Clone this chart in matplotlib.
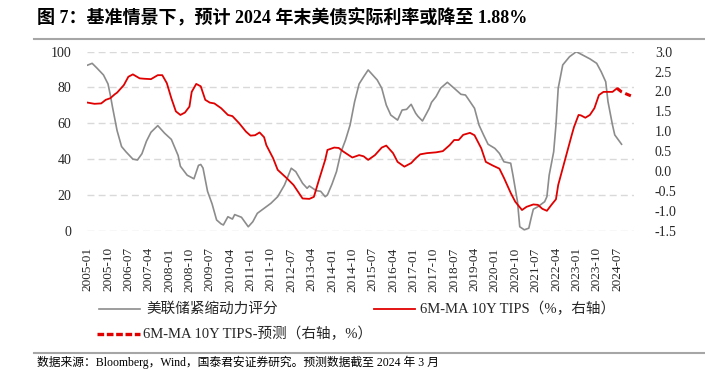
import matplotlib
matplotlib.use("Agg")
import matplotlib.pyplot as plt
from matplotlib.lines import Line2D

plt.rcParams['font.family'] = ['Liberation Serif', 'Noto Sans CJK SC']
plt.rcParams['axes.unicode_minus'] = False

# 月份序号：0 = 2005-01
score_month = [0, 2, 4, 7, 9, 10, 11, 13, 15, 17, 20, 22, 24, 26, 28, 31, 34, 37, 40, 41,
               44, 47, 49, 50, 51, 53, 55, 57, 59, 60, 62, 64, 65, 68, 71, 73, 75, 78, 81, 84,
               87, 90, 92, 95, 97, 98, 101, 103, 105, 106, 108, 110, 112, 114, 116, 118, 120, 122, 124, 126,
               128, 130, 132, 134, 137, 139, 141, 143, 145, 146, 148, 150, 151, 152, 154, 156, 159, 162, 165, 167,
               168, 171, 173, 175, 177, 180, 182, 184, 187, 188, 190, 191, 193, 195, 196, 197, 199, 202, 203, 204,
               206, 207, 208, 210, 213, 216, 219, 222, 225, 227, 229, 230, 232, 233, 236]
score = [92.5, 93.5, 91, 87, 82, 76, 69, 56, 47, 44, 40, 39.5, 43, 50, 55, 58.7, 54.5, 51, 42, 36,
         31, 29, 36.5, 37, 35, 22, 15, 6, 3.8, 3.2, 7.8, 6.5, 9, 7.5, 2.2, 5, 9.7, 12.5, 15.3, 19,
         25.5, 34.9, 33, 26.5, 23.7, 25, 22.4, 22, 19, 20, 26, 33, 44, 50.7, 59, 72, 82, 86, 89.8, 87,
         84.2, 79.6, 70.2, 64.6, 61.8, 67.4, 67.8, 70.6, 65.6, 63.9, 61.3, 66, 68.4, 71.7, 74.9, 79.6, 82.9, 79.6, 76.2, 75.8,
         74, 68.4, 59, 53.5, 48.3, 46, 43.2, 38.5, 37.7, 31, 16.2, 2.2, 0.5, 1.4, 6.9, 12, 13.4, 16.2, 19, 31,
         44.1, 59, 79.6, 92.6, 97.2, 100, 98, 96, 93.5, 88.8, 83.2, 72.1, 59, 53.5, 48.3]

tips_month = [0, 3, 6, 8, 10, 12, 13, 16, 18, 20, 23, 25, 28, 31, 33, 35, 37, 39, 41, 43,
              45, 46, 48, 50, 52, 54, 56, 59, 62, 64, 67, 70, 72, 74, 76, 78, 79, 82, 84, 88,
              91, 95, 98, 100, 102, 105, 106, 109, 111, 113, 117, 120, 122, 124, 127, 130, 132, 135, 137, 140,
              143, 145, 147, 150, 154, 157, 160, 162, 164, 166, 169, 171, 174, 176, 179, 182, 184, 187, 189, 192,
              194, 197, 199, 201, 203, 205, 207, 208, 210, 212, 214, 215, 217, 218, 220, 222, 224, 226, 228, 232,
              234]
tips = [1.72, 1.69, 1.70, 1.79, 1.83, 1.93, 1.97, 2.16, 2.37, 2.43, 2.33, 2.32, 2.31, 2.41, 2.41, 2.21, 1.83, 1.50, 1.41, 1.47,
        1.62, 1.99, 2.19, 2.13, 1.79, 1.72, 1.70, 1.58, 1.41, 1.38, 1.20, 0.99, 0.89, 0.90, 0.97, 0.85, 0.65, 0.32, 0.03, -0.18,
        -0.35, -0.69, -0.70, -0.65, -0.27, 0.28, 0.53, 0.59, 0.58, 0.49, 0.34, 0.40, 0.37, 0.28, 0.40, 0.59, 0.64, 0.45, 0.23, 0.11,
        0.20, 0.32, 0.42, 0.45, 0.47, 0.50, 0.65, 0.78, 0.78, 0.91, 0.96, 0.90, 0.57, 0.23, 0.14, 0.06, -0.17, -0.55, -0.77, -0.98,
        -0.90, -0.84, -0.85, -0.95, -1.00, -0.85, -0.71, -0.35, 0.07, 0.49, 0.91, 1.11, 1.41, 1.40, 1.34, 1.41, 1.58, 1.91, 1.99, 1.99,
        2.08]

pred_month = [234, 236, 238, 241]
pred = [2.08, 1.99, 1.94, 1.87]

n_month = 242
tick_pos = list(range(0, n_month, 9))
tick_lab = ["%d-%02d" % (2005 + m // 12, m % 12 + 1) for m in tick_pos]

W, H = 705, 369
fig = plt.figure(figsize=(W / 100, H / 100), dpi=100)
ax = fig.add_axes([86.5 / W, 1 - 230.7 / H, (634 - 86.5) / W, (230.7 - 51.7) / H])
ax2 = ax.twinx()

ax.plot(score_month, score, color='#8c8c8c', lw=1.2, zorder=3)
ax2.plot(tips_month, tips, color='#e00000', lw=1.3, zorder=3)
ax2.plot(pred_month, pred, color='#e00000', lw=2.2, ls=(0, (2, 1.2)), zorder=3)

ax.set_xlim(-0.5, n_month - 0.5)
ax.set_ylim(0, 100)
ax2.set_ylim(-1.5, 3.0)
ax.set_yticks(range(0, 101, 20))
ax2.set_yticks([-1.5, -1.0, -0.5, 0, 0.5, 1.0, 1.5, 2.0, 2.5, 3.0])
ax2.set_yticklabels(["%.1f" % v for v in ax2.get_yticks()])
ax.set_xticks(tick_pos)
ax.set_xticklabels(tick_lab, rotation=90)

ax.grid(axis='y', color='#d9d9d9', ls=(0, (5, 3)), lw=1)
ax.set_axisbelow(True)
for a in (ax, ax2):
    for s in a.spines.values():
        s.set_visible(False)
ax.tick_params(axis='both', length=0, labelsize=10, colors='#262626')
ax.tick_params(axis='y', pad=11)
ax.tick_params(axis='x', pad=12, labelsize=9.5)
ax2.tick_params(axis='y', length=0, labelsize=10, colors='#262626', pad=15)

# 标题
fig.text(37 / W, 1 - 18 / H, "图 7：基准情景下，预计 2024 年末美债实际利率或降至 1.88%",
         fontsize=13, fontweight='bold', va='center', ha='left')
fig.add_artist(Line2D([34 / W, 1], [1 - 39 / H, 1 - 39 / H], color='#a6a6a6', lw=1.5))

# 图例
def leg(x0, x1, y, color, lw, ls, text, tx):
    yy = 1 - y / H
    fig.add_artist(Line2D([x0 / W, x1 / W], [yy, yy], color=color, lw=lw, ls=ls))
    fig.text(tx / W, yy, text, fontsize=10.5, va='center', ha='left', color='#262626')

leg(99, 140, 309, '#8c8c8c', 1.2, '-', "美联储紧缩动力评分", 146)
leg(374, 415, 309, '#e00000', 1.3, '-', "6M-MA 10Y TIPS（%，右轴）", 420)
leg(97, 140, 334, '#e00000', 2.4, (0, (2, 0.8)), "6M-MA 10Y TIPS-预测（右轴，%）", 143)

# 数据来源
fig.add_artist(Line2D([34 / W, 1], [1 - 353 / H, 1 - 353 / H], color='#a6a6a6', lw=1.5))
fig.text(37 / W, 1 - 355.5 / H, "数据来源：Bloomberg，Wind，国泰君安证券研究。预测数据截至 2024 年 3 月",
         fontsize=8.5, va='top', ha='left')

fig.savefig("out.png", dpi=100)
